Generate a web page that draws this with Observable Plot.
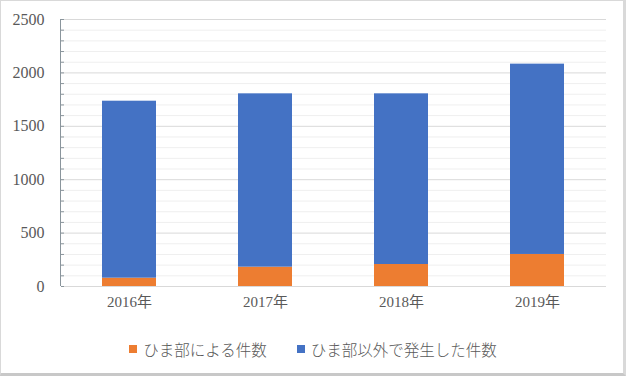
<!DOCTYPE html>
<html>
<head>
<meta charset="utf-8">
<script src="https://cdn.jsdelivr.net/npm/d3@7"></script>
<script src="https://cdn.jsdelivr.net/npm/@observablehq/plot@0.6"></script>
<style>
  html, body { margin: 0; padding: 0; background: #fff; }
  #wrap { position: relative; width: 626px; height: 376px; overflow: hidden; }
  #border { position: absolute; left: 0; top: 0; width: 626px; height: 376px; box-sizing: border-box; border: 1px solid #d9d9d9; border-right: 3px solid #d9d9d9; border-bottom: 3px solid #c8c8c8; pointer-events: none; }
  #legend { position: absolute; left: 0; top: 338px; width: 626px; display: flex; justify-content: center; gap: 30px; font-family: "Noto Sans CJK JP", sans-serif; font-size: 15.5px; font-weight: 300; color: #595959; }
  .item { display: flex; align-items: center; }
  .sw { width: 8px; height: 8px; margin-right: 6px; display: inline-block; }
</style>
</head>
<body>
<div id="wrap">
  <div id="chart"></div>
  <div id="legend"></div>
  <div id="border"></div>
</div>
<script>
const years = ["2016年", "2017年", "2018年", "2019年"];
const seriesNames = ["ひま部による件数", "ひま部以外で発生した件数"];
const himabu = [78, 181, 206, 300];
const others = [1657, 1623, 1598, 1782];
const colors = ["#ED7D31", "#4472C4"];
const yTicksMajor = [0, 500, 1000, 1500, 2000, 2500];

const data = [];
years.forEach((y, i) => {
  data.push({year: y, series: seriesNames[0], value: himabu[i]});
  data.push({year: y, series: seriesNames[1], value: others[i]});
});
const minor = d3.range(0, 2501, 100).filter(v => v % 500 !== 0);
const allTicks = d3.range(0, 2501, 100);

const chart = Plot.plot({
  width: 626,
  height: 320,
  marginLeft: 61,
  marginRight: 20,
  marginTop: 19,
  marginBottom: 34,
  style: {fontFamily: "'Liberation Serif', 'Noto Sans CJK JP', serif", color: "#595959", background: "transparent"},
  x: {domain: years, paddingInner: 0.6, paddingOuter: 0.3, label: null},
  y: {domain: [0, 2500], label: null},
  color: {domain: seriesNames, range: colors},
  marks: [
    Plot.ruleY(minor, {stroke: "#efefef", strokeWidth: 1}),
    Plot.ruleY(yTicksMajor, {stroke: "#d9d9d9", strokeWidth: 1}),
    Plot.barY(data, {x: "year", y: "value", fill: "series", order: seriesNames}),
    Plot.axisY(allTicks, {tickSize: -3, tickFormat: () => "", stroke: "#8a959c", strokeOpacity: 1}),
    Plot.axisY(yTicksMajor, {tickSize: 0, tickPadding: 17, fontSize: 16, fill: "#595959", label: null, tickFormat: d => String(d)}),
    Plot.axisX({tickSize: 0, tickPadding: 10, fontSize: 15, fill: "#595959", label: null})
  ]
});
document.getElementById("chart").appendChild(chart);

// left axis line drawn via Plot's y scale
const ys = chart.scale("y");
d3.select(chart).append("line")
  .attr("x1", 60.5).attr("x2", 60.5)
  .attr("y1", ys.apply(0)).attr("y2", ys.apply(2500))
  .attr("stroke", "#8a959c");

const legend = document.getElementById("legend");
seriesNames.forEach((s, i) => {
  const it = document.createElement("div");
  it.className = "item";
  it.innerHTML = `<span class="sw" style="background:${colors[i]}"></span><span>${s}</span>`;
  legend.appendChild(it);
});
</script>
</body>
</html>
